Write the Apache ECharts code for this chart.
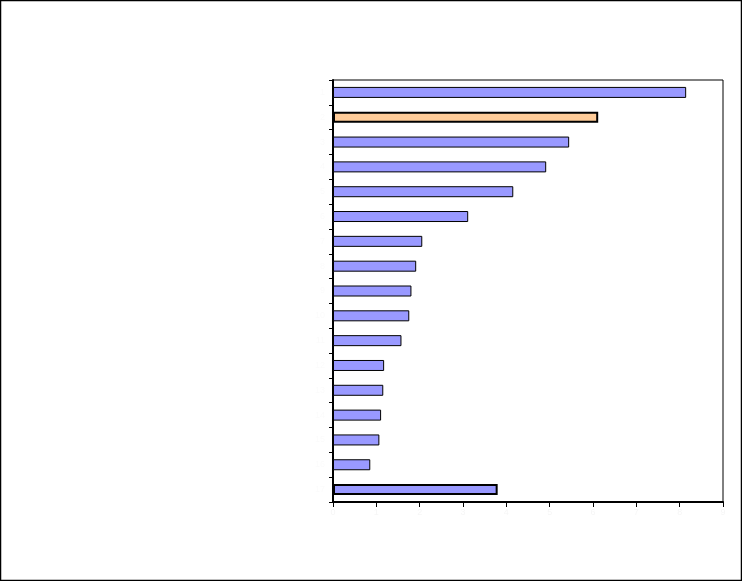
<!DOCTYPE html>
<html>
<head>
<meta charset="utf-8">
<script src="https://cdn.jsdelivr.net/npm/echarts@6/dist/echarts.min.js"></script>
<style>
html,body{margin:0;padding:0;background:#fff;}
#c{width:742px;height:581px;}
</style>
</head>
<body>
<div id="c"></div>
<script>
var categories = ['1','2','3','4','5','6','7','8','9','10','11','12','13','14','15','16','17'];
var values = [8.15, 6.12, 5.45, 4.92, 4.16, 3.12, 2.06, 1.92, 1.81, 1.76, 1.58, 1.18, 1.16, 1.11, 1.07, 0.86, 3.8];
var highlight = ['2'];
var emphasisBorder = ['2', '17'];
var xTicks = [0, 9, 1];

var chart = echarts.init(document.getElementById('c'), null, {renderer: 'canvas'});
var data = values.map(function (v, i) {
  var cat = categories[i];
  return {
    value: v,
    itemStyle: {
      color: highlight.indexOf(cat) >= 0 ? '#FFCC99' : '#9999FF',
      borderColor: '#000',
      borderWidth: emphasisBorder.indexOf(cat) >= 0 ? 2 : 1
    }
  };
});
chart.setOption({
  animation: false,
  backgroundColor: '#fff',
  graphic: [{
    type: 'rect',
    shape: {x: 0.5, y: 0.5, width: 741, height: 580},
    style: {fill: 'none', stroke: '#000', lineWidth: 1.5},
    silent: true
  }],
  grid: {
    left: 333, top: 80, right: 19, bottom: 79,
    show: true, borderColor: '#000', borderWidth: 1, backgroundColor: '#fff'
  },
  xAxis: {
    type: 'value',
    min: xTicks[0], max: xTicks[1], interval: xTicks[2],
    axisLine: {show: true, lineStyle: {color: '#000', width: 2}},
    axisTick: {show: true, length: 5, lineStyle: {color: '#000', width: 1}},
    axisLabel: {color: '#f6f6f6', fontSize: 9, fontFamily: 'Arial, Liberation Sans', margin: 6},
    splitLine: {show: false}
  },
  yAxis: {
    type: 'category',
    data: categories,
    inverse: true,
    axisLine: {show: true, lineStyle: {color: '#000', width: 2}},
    axisTick: {show: true, length: 4, lineStyle: {color: '#000', width: 1}},
    axisLabel: {color: '#fbfbfb', fontSize: 9, fontFamily: 'Arial, Liberation Sans'}
  },
  series: [{
    type: 'bar',
    data: data,
    barWidth: 11
  }]
});
</script>
</body>
</html>
